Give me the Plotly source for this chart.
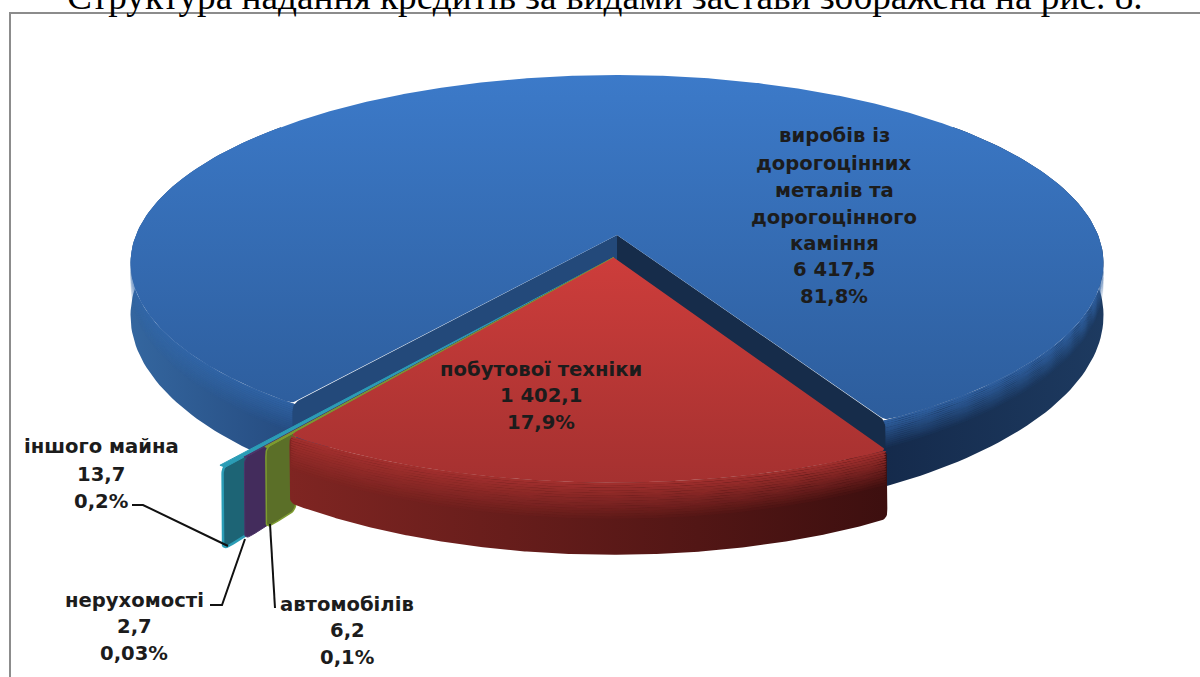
import numpy as np
import plotly.graph_objects as go

# ---- data ----
names = ["виробів із дорогоцінних металів та дорогоцінного каміння",
         "побутової техніки", "автомобілів", "нерухомості", "іншого майна"]
values = [6417.5, 1402.1, 6.2, 2.7, 13.7]
value_labels = ["6 417,5", "1 402,1", "6,2", "2,7", "13,7"]
percent_labels = ["81,8%", "17,9%", "0,1%", "0,03%", "0,2%"]
title_text = "Структура надання кредитів за видами застави зображена на рис. 8."

# ---- style / projection ----
W, H, K = 481.0, 184.0, 0.15
CX, CY = 617.0, 235.0
DEPTH = 50.0
FIRST_ANGLE = 29.0      # angle at which the red slice starts (deg from the front)
EXPLODE = 0.12
RIM_REACH = [1.0, 1.0, 1.06, 1.112, 1.16]
PANEL_DEPTH = 1.18
FONT = "DejaVu Sans"
FONT_SIZE = 19.6
INK = "#1c1c1c"


def project(u, v, z=0.0):
    u, v = np.asarray(u, float), np.asarray(v, float)
    s = 1.0 / (1.0 - K * v)
    return CX + W * u * s, CY + H * v * s + z * DEPTH * s * s


def rim(a, ou=0.0, ov=0.0, r=1.0, z=0.0):
    t = np.radians(a)
    return project(ou + r * np.sin(t), ov + r * np.cos(t), z)


def soften(x, y, win=13, keep=None):
    """Round the corners of a closed outline; points near `keep` stay sharp."""
    x, y = np.asarray(x, float), np.asarray(y, float)
    px, py = np.r_[x, x[0]], np.r_[y, y[0]]
    d = np.r_[0, np.cumsum(np.hypot(np.diff(px), np.diff(py)))]
    s = np.arange(0, d[-1], 1.0)
    rx, ry = np.interp(s, d, px), np.interp(s, d, py)
    ker = np.ones(win) / win
    sx = np.convolve(np.r_[rx[-win:], rx, rx[:win]], ker, "same")[win:-win]
    sy = np.convolve(np.r_[ry[-win:], ry, ry[:win]], ker, "same")[win:-win]
    if keep is not None:
        near = np.hypot(rx - keep[0], ry - keep[1]) < 40
        sx[near], sy[near] = rx[near], ry[near]
    return sx[::2], sy[::2]


fig = go.Figure()


def poly(x, y, color=None, grad=None, line=None, lw=0):
    fill = dict(fillcolor=color) if grad is None else dict(
        fillgradient=dict(type=grad[0], colorscale=[[0, grad[1]], [1, grad[2]]]))
    x, y = np.asarray(x), np.asarray(y)
    fig.add_trace(go.Scatter(x=np.r_[x, x[0]], y=np.r_[y, y[0]], mode="lines", fill="toself",
                             line=dict(width=lw, color=line or "rgba(0,0,0,0)"),
                             hoverinfo="skip", showlegend=False, **fill))


def band(angles, ou=0.0, ov=0.0, r=1.0, z0=0.0, z1=1.0, win=0, **kw):
    x0, y0 = rim(angles, ou, ov, r, z0)
    x1, y1 = rim(angles, ou, ov, r, z1)
    bx_, by_ = np.r_[x0, x1[::-1]], np.r_[y0, y1[::-1]]
    if win:
        bx_, by_ = soften(bx_, by_, win)
    poly(bx_, by_, **kw)


def bevel(angles, rgb, ou=0.0, ov=0.0, reach=0.45, alpha=0.95, steps=14, win=0):
    for i in range(steps):
        a = alpha * (1 - i / steps)
        band(angles, ou, ov, 1.0, reach * i / steps, reach * (i + 1) / steps, win=win,
             color=f"rgba({rgb[0]},{rgb[1]},{rgb[2]},{a:.3f})")


# angles from the values
total = sum(values)
sweeps = [v / total * 360 for v in values]
red_start = FIRST_ANGLE
red_end = red_start - sweeps[1]
ol_end = red_end - sweeps[2]
pu_end = ol_end - sweeps[3]
te_end = pu_end - sweeps[4]
blue_start = te_end - 0.0
blue_end = blue_start - sweeps[0]

# ---- blue slice -----
left_side = np.linspace(blue_start + 2, -130, 80)
right_side = np.linspace(red_start - 2, 130, 80)
band(left_side, grad=("horizontal", "#34669f", "#24497d"))
bevel(left_side, (50, 104, 172), reach=0.45, alpha=0.8)
band(right_side, grad=("horizontal", "#14294a", "#1d3a60"))
bevel(right_side, (48, 98, 163), reach=0.42)

ax, ay = project(0, 0)
bx, by = project(0, 0, 1)
for edge, col in ((blue_start, "#23497a"), (red_start, "#162c4a")):
    x0, y0 = rim(edge)
    x1, y1 = rim(edge, z=1)
    wx, wy = soften([ax, x0, x1, bx], [ay, y0, y1, by], 17, keep=(ax, ay))
    poly(wx, wy, color=col)

arc = np.linspace(blue_start, blue_end, 400)
xs, ys = rim(arc)
wx, wy = soften(np.r_[ax, xs], np.r_[ay, ys], 13, keep=(ax, ay))
poly(wx, wy, grad=("vertical", "#2d5d9c", "#3c7ac9"))

# ---- small slices -----
t = np.radians((red_start + red_end) / 2)
ou, ov = EXPLODE * np.sin(t), EXPLODE * np.cos(t)
small = [(2, red_end, ol_end, "#5b6f28", "#7d9c30", RIM_REACH[1], RIM_REACH[2], 1.5),
         (3, ol_end, pu_end, "#432c5c", "#4d3469", RIM_REACH[2], RIM_REACH[3], 1),
         (4, pu_end, te_end, "#1d6475", "#2b9db6", RIM_REACH[3], RIM_REACH[4], 2.5)]
for _, a0, a1, col, light, r0, r1, lw in reversed(small):
    am = (a0 + a1) / 2
    p0 = rim(am, ou, ov, r0 - 0.02)
    p1 = rim(am, ou, ov, r1)
    q1 = rim(am, ou, ov, r1, PANEL_DEPTH)
    q0 = rim(am, ou, ov, r0 - 0.02, PANEL_DEPTH)
    wx, wy = soften([p0[0], p1[0], q1[0], q0[0]], [p0[1], p1[1], q1[1], q0[1]], 15)
    poly(wx, wy, color=col, line=light, lw=lw)
for _, a0, a1, col, light, r0, r1, lw in reversed(small):
    e0 = rim(a0, ou, ov, r1)
    e1 = rim(a1, ou, ov, r1)
    cx0, cy0 = project(ou, ov)
    poly([cx0, e0[0], e1[0]], [cy0, e0[1], e1[1]], color=light, line=light, lw=1)

# ---- red slice -----
red_arc = np.linspace(red_start, red_end, 120)
band(red_arc, ou, ov, win=15, grad=("horizontal", "#7f2522", "#3d0f0f"))
bevel(red_arc, (163, 48, 46), ou, ov, reach=0.5, win=9)
xs, ys = rim(red_arc, ou, ov)
cx0, cy0 = project(ou, ov)
wx, wy = soften(np.r_[cx0, xs], np.r_[cy0, ys], 15, keep=(cx0, cy0))
poly(wx, wy, grad=("vertical", "#a53130", "#cd3d3b"))

# ---- labels ------
blocks = [
    (834, [135, 163, 190, 217, 243, 269, 296],
     ["виробів із", "дорогоцінних", "металів та", "дорогоцінного", "каміння"], 0),
    (541, [369, 395, 422], [names[1]], 1),
    (347, [604, 630, 657], [names[2]], 2),
    (134, [600, 626, 653], [names[3]], 3),
    (101, [446, 474, 501], [names[4]], 4),
]
annos = []
for cx, ylist, head, idx in blocks:
    for y, txt in zip(ylist, head + [value_labels[idx], percent_labels[idx]]):
        annos.append(dict(x=cx, y=y, text=f"<b>{txt}</b>", showarrow=False, xanchor="center", yanchor="middle",
                          font=dict(family=FONT, size=FONT_SIZE, color=INK)))
annos.append(dict(x=605, y=19, text=title_text, showarrow=False, xanchor="center", yanchor="bottom",
                  font=dict(family="Liberation Serif", size=37.3, color="#000000")))

LEAD = dict(color="#111111", width=2)
BORDER = dict(color="#8c8c8c", width=2)
shapes = [
    dict(type="path", path="M132 505 L143 505 L228 546", line=LEAD),
    dict(type="path", path="M210 605 L222 605 L245 539", line=LEAD),
    dict(type="path", path="M275 608 L270 524", line=LEAD),
    dict(type="path", path="M10 677 L10 13 L1200 13", line=BORDER),
]

fig.update_layout(
    width=1200, height=677, margin=dict(l=0, r=0, t=0, b=0),
    paper_bgcolor="white", plot_bgcolor="white", showlegend=False,
    xaxis=dict(range=[0, 1200], visible=False, fixedrange=True),
    yaxis=dict(range=[677, 0], visible=False, fixedrange=True),
    annotations=annos, shapes=shapes,
)
fig.write_html("out.html", config=dict(displayModeBar=False),
               post_script="document.body.style.margin='0';document.body.style.overflow='hidden';")
